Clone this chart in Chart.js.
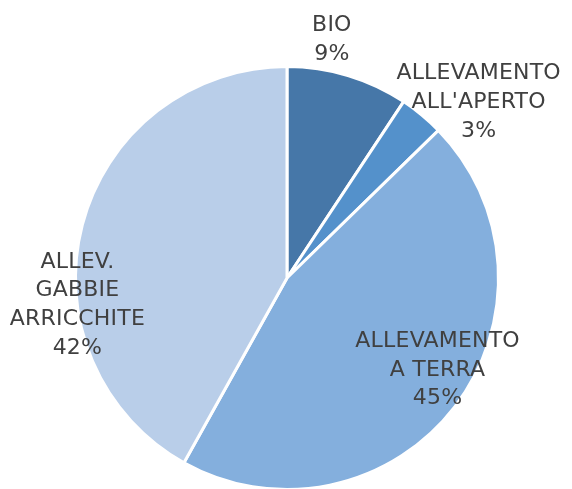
<!DOCTYPE html>
<html>
<head>
<meta charset="utf-8">
<script src="https://cdn.jsdelivr.net/npm/chart.js@4"></script>
<style>
  html, body { margin: 0; padding: 0; background: #fff; overflow: hidden; }
  #wrap { width: 572px; height: 500px; }
</style>
</head>
<body>
<div id="wrap"><canvas id="chart"></canvas></div>
<script>
  const categories = [
    ["BIO"],
    ["ALLEVAMENTO", "ALL'APERTO"],
    ["ALLEVAMENTO", "A TERRA"],
    ["ALLEV.", "GABBIE", "ARRICCHITE"],
  ];
  const shares = [9.3, 3.4, 45.4, 41.9];
  const sliceColors = ["#4677a8", "#5491cb", "#84afdd", "#b9cee9"];

  // label centre, in units of the pie radius from the pie centre
  const labelSpots = [
    [0.212, -1.127],
    [0.906, -0.83],
    [0.712, 0.434],
    [-0.991, 0.127],
  ];

  const pieLabels = {
    id: "pieLabels",
    afterDatasetsDraw(chart) {
      const meta = chart.getDatasetMeta(0);
      const ctx = chart.ctx;
      const total = shares.reduce((a, b) => a + b, 0);
      ctx.save();
      ctx.font = "22px 'DejaVu Sans'";
      ctx.letterSpacing = "0.2px";
      ctx.fillStyle = "#404040";
      ctx.textAlign = "center";
      ctx.textBaseline = "middle";
      const lineH = 28.7;
      meta.data.forEach((arc, i) => {
        const r = arc.outerRadius;
        const lines = categories[i].concat([Math.round((shares[i] / total) * 100) + "%"]);
        const cx = arc.x + labelSpots[i][0] * r;
        const cy = arc.y + labelSpots[i][1] * r;
        const top = cy - ((lines.length - 1) * lineH) / 2;
        lines.forEach((t, j) => ctx.fillText(t, cx, top + j * lineH));
      });
      ctx.restore();
    },
  };

  new Chart(document.getElementById("chart"), {
    type: "pie",
    data: {
      labels: categories.map((c) => c.join(" ")),
      datasets: [
        {
          data: shares,
          backgroundColor: sliceColors,
          borderColor: "#ffffff",
          borderWidth: 3,
        },
      ],
    },
    options: {
      responsive: true,
      maintainAspectRatio: false,
      animation: false,
      layout: {
        padding: { top: 65, bottom: 9, left: 74, right: 72 },
      },
      plugins: {
        legend: { display: false },
        tooltip: { enabled: false },
      },
    },
    plugins: [pieLabels],
  });
</script>
</body>
</html>
